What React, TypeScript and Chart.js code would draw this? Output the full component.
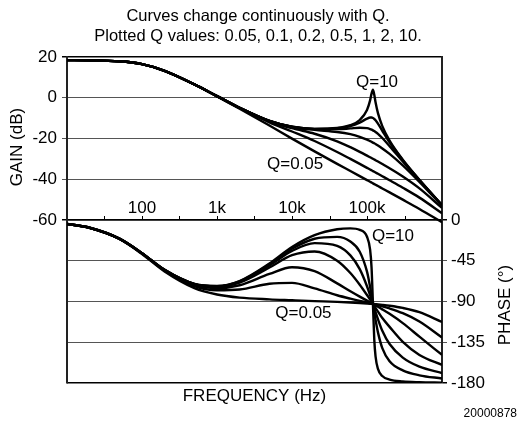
import { useEffect, useRef } from 'react';
import { Chart, registerables } from 'chart.js';

Chart.register(...registerables);

// Frequency grid (Hz)
const freqs = [10, 20, 50, 100, 200, 500, 1000, 2000, 5000, 10000, 20000, 40000, 60000, 80000, 100000, 110000, 115000, 120000, 125000, 130000, 140000, 160000, 200000, 300000, 500000, 1000000];

const qLabels = ['0.05', '0.1', '0.2', '0.5', '1', '2', '10'];

// Gain (dB) read for each Q
const gainQ005 = [18.47, 18.40, 17.90, 16.48, 13.22, 6.51, 0.68, -5.37, -13.65, -20.07, -26.32, -32.43, -35.96, -38.47, -40.42, -41.25, -41.63, -42.01, -42.37, -42.71, -43.34, -44.51, -46.46, -50.02, -54.58, -61.11];
const gainQ01 = [18.47, 18.40, 17.90, 16.48, 13.23, 6.53, 0.77, -5.03, -12.05, -16.57, -21.22, -26.63, -30.02, -32.47, -34.40, -35.23, -35.61, -35.99, -36.35, -36.69, -37.32, -38.50, -40.48, -44.14, -49.02, -56.66];
const gainQ02 = [18.47, 18.40, 17.90, 16.48, 13.23, 6.54, 0.79, -4.94, -11.54, -14.95, -17.66, -21.39, -24.27, -26.54, -28.40, -29.21, -29.59, -29.97, -30.33, -30.67, -31.32, -32.53, -34.60, -38.63, -44.46, -54.08];
const gainQ05 = [18.47, 18.40, 17.90, 16.48, 13.23, 6.54, 0.80, -4.91, -11.39, -14.37, -15.75, -16.79, -17.88, -19.15, -20.56, -21.28, -21.63, -22.01, -22.37, -22.73, -23.44, -24.86, -27.53, -33.20, -41.28, -52.96];
const gainQ1 = [18.47, 18.40, 17.90, 16.48, 13.23, 6.54, 0.80, -4.91, -11.36, -14.28, -15.39, -15.42, -15.04, -14.73, -14.94, -15.35, -15.64, -15.99, -16.37, -16.80, -17.72, -19.76, -23.73, -31.28, -40.55, -52.77];
const gainQ2 = [18.47, 18.40, 17.90, 16.48, 13.23, 6.54, 0.80, -4.91, -11.36, -14.26, -15.30, -15.00, -13.90, -12.19, -10.25, -9.70, -9.71, -9.97, -10.44, -11.09, -12.71, -16.20, -21.85, -30.63, -40.35, -52.72];
const gainQ10 = [18.47, 18.40, 17.90, 16.48, 13.23, 6.54, 0.80, -4.91, -11.36, -14.25, -15.27, -14.85, -13.46, -10.92, -5.99, -1.28, 2.02, 4.01, 1.43, -2.21, -7.56, -13.93, -21.02, -30.41, -40.28, -52.71];

// Phase (degrees) read for each Q
const phaseQ005 = [-4.40, -8.74, -21.03, -37.53, -56.91, -75.26, -82.27, -85.69, -87.61, -88.58, -89.54, -90.47, -91.11, -91.67, -92.20, -92.45, -92.59, -92.71, -92.83, -92.96, -93.21, -93.70, -94.67, -97.08, -101.76, -112.65];
const phaseQ01 = [-4.35, -8.65, -20.79, -37.06, -55.95, -72.89, -77.57, -76.72, -70.41, -69.38, -75.54, -83.13, -86.87, -89.30, -91.15, -91.95, -92.34, -92.71, -93.07, -93.42, -94.09, -95.37, -97.71, -102.95, -112.09, -129.72];
const phaseQ02 = [-4.32, -8.60, -20.67, -36.82, -55.48, -71.69, -75.20, -72.02, -59.54, -52.13, -56.40, -69.99, -78.70, -84.60, -89.06, -90.95, -91.85, -92.71, -93.54, -94.34, -95.86, -98.68, -103.66, -113.87, -128.80, -148.99];
const phaseQ05 = [-4.31, -8.57, -20.60, -36.68, -55.19, -70.98, -73.76, -69.16, -52.52, -38.90, -34.72, -44.93, -58.53, -71.44, -82.86, -87.97, -90.39, -92.71, -94.94, -97.08, -101.12, -108.29, -118.00, -134.50, -149.00, -160.00];
const phaseQ1 = [-4.31, -8.56, -20.57, -36.63, -55.10, -70.74, -73.29, -68.20, -50.14, -34.17, -25.53, -28.62, -39.09, -54.25, -73.11, -83.07, -87.96, -92.71, -97.27, -101.60, -109.52, -122.29, -137.00, -152.00, -162.00, -169.00];
const phaseQ2 = [-4.30, -8.56, -20.56, -36.60, -55.05, -70.62, -73.05, -67.73, -48.95, -31.77, -20.70, -18.68, -23.83, -35.02, -57.00, -73.74, -83.17, -92.71, -101.88, -110.27, -124.08, -141.43, -156.00, -166.00, -171.50, -175.00];
const phaseQ10 = [-4.30, -8.55, -20.55, -36.58, -55.01, -70.52, -72.86, -67.35, -47.99, -29.85, -16.78, -10.21, -9.21, -10.90, -18.51, -32.81, -52.42, -92.71, -131.85, -150.53, -164.41, -172.30, -176.26, -178.36, -179.19, -179.62];

const gainSeries = [gainQ005, gainQ01, gainQ02, gainQ05, gainQ1, gainQ2, gainQ10];
const phaseSeries = [phaseQ005, phaseQ01, phaseQ02, phaseQ05, phaseQ1, phaseQ2, phaseQ10];

// Axis ticks / labels
const xLabelValues = [100, 1000, 10000, 100000];
const xLabelTexts = ['100', '1k', '10k', '100k'];
const xTickMarks = [31.62, 100, 316.2, 1000, 3162, 10000, 31623, 100000, 316228];
const gainMin = -60;
const gainMax = 20;
const phaseMin = -180;
const phaseMax = 0;

const titleLines = ['Curves change continuously with Q.', 'Plotted Q values: 0.05, 0.1, 0.2, 0.5, 1, 2, 10.'];
const gainNotes = [
  { text: 'Q=10', f: 136000, v: 7.5 },
  { text: 'Q=0.05', f: 11000, v: -32.8 },
];
const phaseNotes = [
  { text: 'Q=10', f: 222000, v: -18 },
  { text: 'Q=0.05', f: 14200, v: -102.5 },
];
const footnote = '20000878';

const FONT = '"Liberation Sans", Arial, Helvetica, sans-serif';

const overlayPlugin = {
  id: 'overlay',
  afterDraw(chart: any) {
    const { ctx, scales } = chart;
    const xs = scales.x;
    const gs = scales.gain;
    const ps = scales.phase;
    const mid = gs.getPixelForValue(gainMin);
    ctx.save();
    ctx.fillStyle = '#000';
    ctx.strokeStyle = '#000';
    ctx.textAlign = 'center';
    ctx.textBaseline = 'middle';

    // title
    ctx.font = `16.5px ${FONT}`;
    ctx.fillText(titleLines[0], 258, 16);
    ctx.fillText(titleLines[1], 258, 36);

    // x tick marks along middle line
    ctx.lineWidth = 1;
    ctx.beginPath();
    for (const f of xTickMarks) {
      const px = Math.round(xs.getPixelForValue(f)) + 0.5;
      ctx.moveTo(px, mid - 4);
      ctx.lineTo(px, mid);
    }
    ctx.stroke();

    // x labels
    ctx.font = `17px ${FONT}`;
    xLabelValues.forEach((v, i) => {
      ctx.fillText(xLabelTexts[i], xs.getPixelForValue(v), mid - 12);
    });

    // annotations
    for (const n of gainNotes) ctx.fillText(n.text, xs.getPixelForValue(n.f), gs.getPixelForValue(n.v));
    for (const n of phaseNotes) ctx.fillText(n.text, xs.getPixelForValue(n.f), ps.getPixelForValue(n.v));

    // axis titles
    ctx.save();
    ctx.translate(17, 147);
    ctx.rotate(-Math.PI / 2);
    ctx.fillText('GAIN (dB)', 0, 0);
    ctx.restore();
    ctx.save();
    ctx.translate(505, 305);
    ctx.rotate(-Math.PI / 2);
    ctx.fillText('PHASE (°)', 0, 0);
    ctx.restore();

    // footnote
    ctx.font = `12px ${FONT}`;
    ctx.textAlign = 'right';
    ctx.fillText(footnote, 517, 414);
    ctx.restore();
  },
};

export default function App() {
  const ref = useRef<HTMLCanvasElement | null>(null);
  useEffect(() => {
    if (!ref.current) return;
    const datasets: any[] = [];
    gainSeries.forEach((arr, i) => {
      datasets.push({
        label: `Gain Q=${qLabels[i]}`,
        data: freqs.map((f, j) => ({ x: f, y: arr[j] })),
        yAxisID: 'gain',
        borderColor: '#000',
        borderWidth: 2.4,
        pointRadius: 0,
        fill: false,
        cubicInterpolationMode: 'monotone',
      });
    });
    phaseSeries.forEach((arr, i) => {
      datasets.push({
        label: `Phase Q=${qLabels[i]}`,
        data: freqs.map((f, j) => ({ x: f, y: arr[j] })),
        yAxisID: 'phase',
        borderColor: '#000',
        borderWidth: 2.4,
        pointRadius: 0,
        fill: false,
        cubicInterpolationMode: 'monotone',
      });
    });
    const edgeColor = (v: number, edges: number[]) => (edges.includes(v) ? '#000' : '#555');
    const chart = new Chart(ref.current, {
      type: 'line',
      data: { datasets },
      plugins: [overlayPlugin],
      options: {
        animation: false,
        responsive: false,
        devicePixelRatio: 1,
        layout: { padding: { top: 57, left: 0, right: 0, bottom: 0 } },
        plugins: { legend: { display: false }, tooltip: { enabled: false }, title: { display: false } },
        scales: {
          x: {
            type: 'logarithmic',
            min: 10,
            max: 1000000,
            ticks: { display: false },
            grid: { display: false },
            border: { display: false },
            title: {
              display: true,
              text: 'FREQUENCY (Hz)',
              color: '#000',
              font: { family: FONT, size: 17 },
              padding: { top: 0, bottom: 27 },
            },
            afterFit: (s: any) => { s.height = 51; },
          },
          gain: {
            type: 'linear',
            position: 'left',
            min: gainMin - (gainMax - gainMin),
            max: gainMax,
            ticks: { stepSize: 20, color: '#000', font: { family: FONT, size: 17 }, padding: 5 },
            afterBuildTicks: (s: any) => { s.ticks = s.ticks.filter((t: any) => t.value >= gainMin); },
            afterFit: (s: any) => { s.width = 67; },
            grid: {
              color: (c: any) => edgeColor(c.tick?.value, [gainMin, gainMax]),
              lineWidth: (c: any) => ([gainMin, gainMax].includes(c.tick?.value) ? 1.5 : 1),
              tickLength: 5,
            },
            border: { display: true, color: '#222', width: 2 },
          },
          phase: {
            type: 'linear',
            position: 'right',
            min: phaseMin,
            max: phaseMax - (phaseMin - phaseMax),
            ticks: { stepSize: 45, color: '#000', font: { family: FONT, size: 17 }, padding: 4 },
            afterBuildTicks: (s: any) => { s.ticks = s.ticks.filter((t: any) => t.value <= phaseMax); },
            afterFit: (s: any) => { s.width = 79; },
            grid: {
              color: (c: any) => edgeColor(c.tick?.value, [phaseMin, phaseMax]),
              lineWidth: (c: any) => ([phaseMin, phaseMax].includes(c.tick?.value) ? 1.5 : 1),
              tickLength: 5,
            },
            border: { display: true, color: '#222', width: 2 },
          },
        },
      } as any,
    });
    return () => chart.destroy();
  }, []);
  return (
    <div style={{ position: 'absolute', left: 0, top: 0, width: 521, height: 434, background: '#fff' }}>
      <canvas ref={ref} width={521} height={434} style={{ display: 'block', width: 521, height: 434 }} />
    </div>
  );
}
